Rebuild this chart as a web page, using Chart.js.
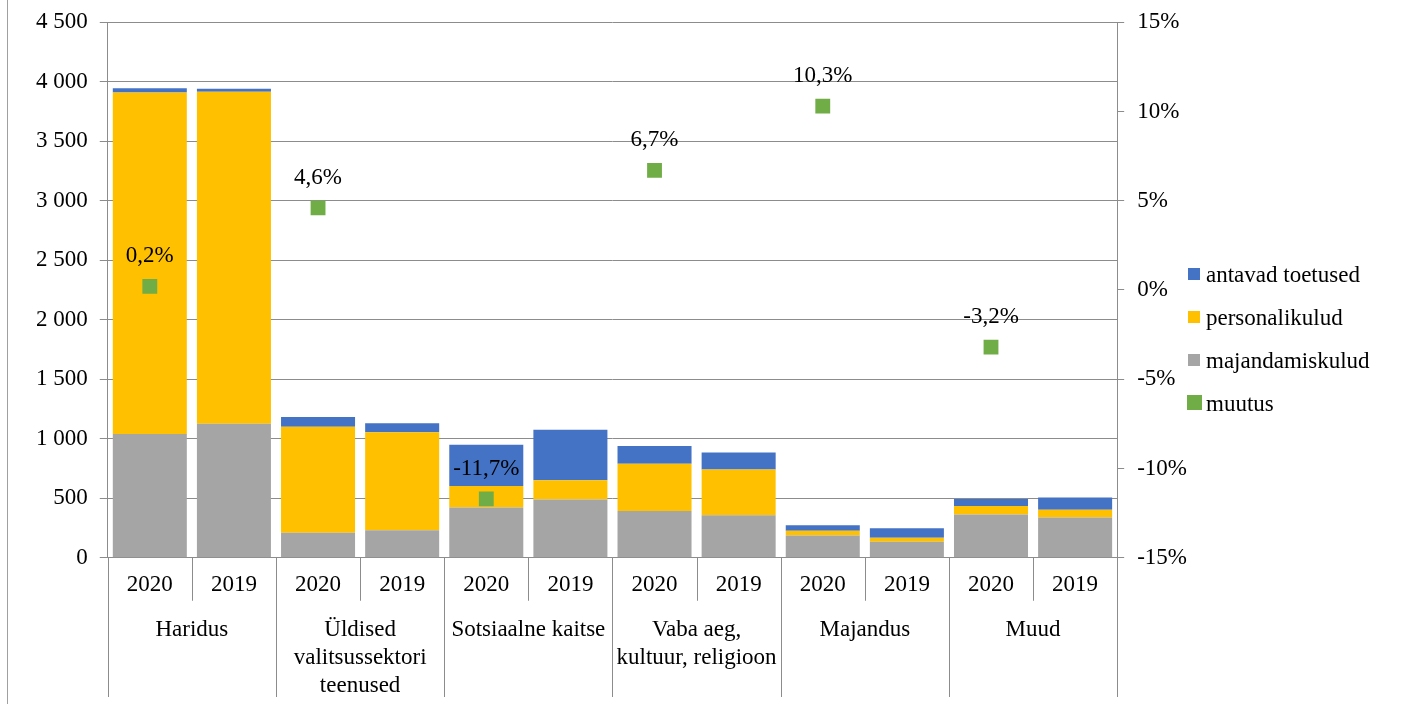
<!DOCTYPE html>
<html>
<head>
<meta charset="utf-8">
<script src="https://cdn.jsdelivr.net/npm/chart.js@4/dist/chart.umd.min.js"></script>
<style>
  html, body { margin: 0; padding: 0; background: #fff; }
  #wrap { position: relative; width: 1402px; height: 704px; overflow: hidden; font-family: 'Liberation Serif', 'Times New Roman', serif; }
  #frame { position: absolute; left: 7px; top: 0; width: 1px; height: 704px; background: #a0a0a0; }
  canvas { position: absolute; left: 0; top: 0; }
  #legenda { position: absolute; left: 1188px; top: 253px; font-size: 23px; color: #000; }
  #legenda .voce { height: 43px; line-height: 43px; white-space: nowrap; position: relative; padding-left: 18px; }
  #legenda .box { position: absolute; left: 0; top: 15px; width: 12px; height: 12px; }
  #legenda .box.grande { left: -1px; top: 13px; width: 15px; height: 15px; }
</style>
</head>
<body>
<div id="wrap">
  <div id="frame"></div>
  <canvas id="grafico" width="1402" height="704"></canvas>
  <div id="legenda"></div>
</div>
<script>
// dati
const years = ['2020', '2019', '2020', '2019', '2020', '2019', '2020', '2019', '2020', '2019', '2020', '2019'];
const groups = [
  ['Haridus'],
  ['Üldised', 'valitsussektori', 'teenused'],
  ['Sotsiaalne kaitse'],
  ['Vaba aeg,', 'kultuur, religioon'],
  ['Majandus'],
  ['Muud']
];
const majandamiskulud = [1040, 1125, 210, 232, 422, 490, 392, 358, 187, 134, 364, 339];
const personalikulud = [2870, 2790, 890, 823, 180, 162, 397, 384, 40, 34, 70, 64];
const antavadToetused = [35, 25, 82, 76, 347, 423, 151, 142, 47, 81, 59, 103];
const muutus = [0.2, null, 4.6, null, -11.7, null, 6.7, null, 10.3, null, -3.2, null];
const legendOrder = ['antavad toetused', 'personalikulud', 'majandamiskulud', 'muutus'];

const FONT = "'Liberation Serif', 'Times New Roman', serif";
const FS = 23;
const GRID = '#8c8c8c';

// linee di separazione sotto l'asse x
const groupLines = {
  id: 'groupLines',
  afterDraw(chart) {
    const x = chart.scales.x;
    const ctx = chart.ctx;
    const step = x.width / years.length;
    ctx.save();
    ctx.strokeStyle = GRID;
    ctx.lineWidth = 1;
    for (let i = 0; i <= years.length; i++) {
      const px = Math.round(x.left + i * step) + 0.5;
      const bottom = (i % 2 === 0) ? chart.height - 7 : chart.chartArea.bottom + 43;
      ctx.beginPath();
      ctx.moveTo(px, chart.chartArea.bottom);
      ctx.lineTo(px, bottom);
      ctx.stroke();
    }
    ctx.restore();
  }
};

// etichette percentuali sopra i punti
const pointLabels = {
  id: 'pointLabels',
  afterDatasetsDraw(chart) {
    const ctx = chart.ctx;
    const idx = chart.data.datasets.findIndex(d => d.label === 'muutus');
    const meta = chart.getDatasetMeta(idx);
    ctx.save();
    ctx.font = FS + 'px ' + FONT;
    ctx.fillStyle = '#000';
    ctx.textAlign = 'center';
    ctx.textBaseline = 'middle';
    meta.data.forEach((pt, i) => {
      const v = muutus[i];
      if (v === null) return;
      ctx.fillText(v.toFixed(1).replace('.', ',') + '%', pt.x, pt.y - 30);
    });
    ctx.restore();
  }
};

const ctx = document.getElementById('grafico').getContext('2d');
const grafico = new Chart(ctx, {
  type: 'bar',
  data: {
    labels: years,
    datasets: [{
      label: 'majandamiskulud',
      data: majandamiskulud,
      backgroundColor: '#A5A5A5',
      yAxisID: 'y',
      order: 1
    }, {
      label: 'personalikulud',
      data: personalikulud,
      backgroundColor: '#FFC000',
      yAxisID: 'y',
      order: 1
    }, {
      label: 'antavad toetused',
      data: antavadToetused,
      backgroundColor: '#4472C4',
      yAxisID: 'y',
      order: 1
    }, {
      type: 'line',
      label: 'muutus',
      data: muutus,
      yAxisID: 'y1',
      showLine: false,
      pointStyle: 'rect',
      pointRadius: 10.5,
      pointBorderWidth: 0,
      backgroundColor: '#70AD47',
      borderColor: '#70AD47',
      order: 0
    }]
  },
  options: {
    responsive: false,
    animation: false,
    layout: { padding: { left: 24, right: 202, top: 1, bottom: 0 } },
    datasets: {
      bar: { categoryPercentage: 1, barPercentage: 0.88 }
    },
    plugins: {
      tooltip: { enabled: false },
      legend: { display: false }
    },
    scales: {
      x: {
        stacked: true,
        offset: true,
        grid: { display: false, drawTicks: false },
        border: { display: true, color: GRID },
        ticks: {
          color: '#000',
          font: { family: FONT, size: FS, lineHeight: 1.22 },
          padding: 13,
          maxRotation: 0,
          autoSkip: false
        }
      },
      x2: {
        type: 'category',
        position: 'bottom',
        labels: groups,
        offset: true,
        grid: { display: false, drawTicks: false },
        border: { display: false },
        ticks: {
          color: '#000',
          font: { family: FONT, size: FS, lineHeight: 1.22 },
          padding: 4,
          maxRotation: 0,
          autoSkip: false
        }
      },
      y: {
        stacked: true,
        position: 'left',
        min: 0,
        max: 4500,
        grid: { color: GRID, tickLength: 8 },
        border: { color: GRID },
        ticks: {
          stepSize: 500,
          color: '#000',
          padding: 12,
          font: { family: FONT, size: FS, lineHeight: 0.8 },
          callback: function(value) {
            return String(value).replace(/\B(?=(\d{3})+(?!\d))/g, ' ');
          }
        }
      },
      y1: {
        position: 'right',
        min: -15,
        max: 15,
        grid: { drawOnChartArea: false, color: GRID, tickLength: 7 },
        border: { color: GRID },
        ticks: {
          stepSize: 5,
          color: '#000',
          padding: 13,
          font: { family: FONT, size: FS, lineHeight: 0.8 },
          callback: function(value) {
            return value + '%';
          }
        }
      }
    }
  },
  plugins: [groupLines, pointLabels]
});

// legenda in HTML
const legenda = document.getElementById('legenda');
legendOrder.forEach(nome => {
  const ds = grafico.data.datasets.find(d => d.label === nome);
  const voce = document.createElement('div');
  voce.className = 'voce';
  const box = document.createElement('span');
  box.className = 'box' + (ds.type === 'line' ? ' grande' : '');
  box.style.background = ds.backgroundColor;
  voce.appendChild(box);
  voce.appendChild(document.createTextNode(nome));
  legenda.appendChild(voce);
});
</script>
</body>
</html>
